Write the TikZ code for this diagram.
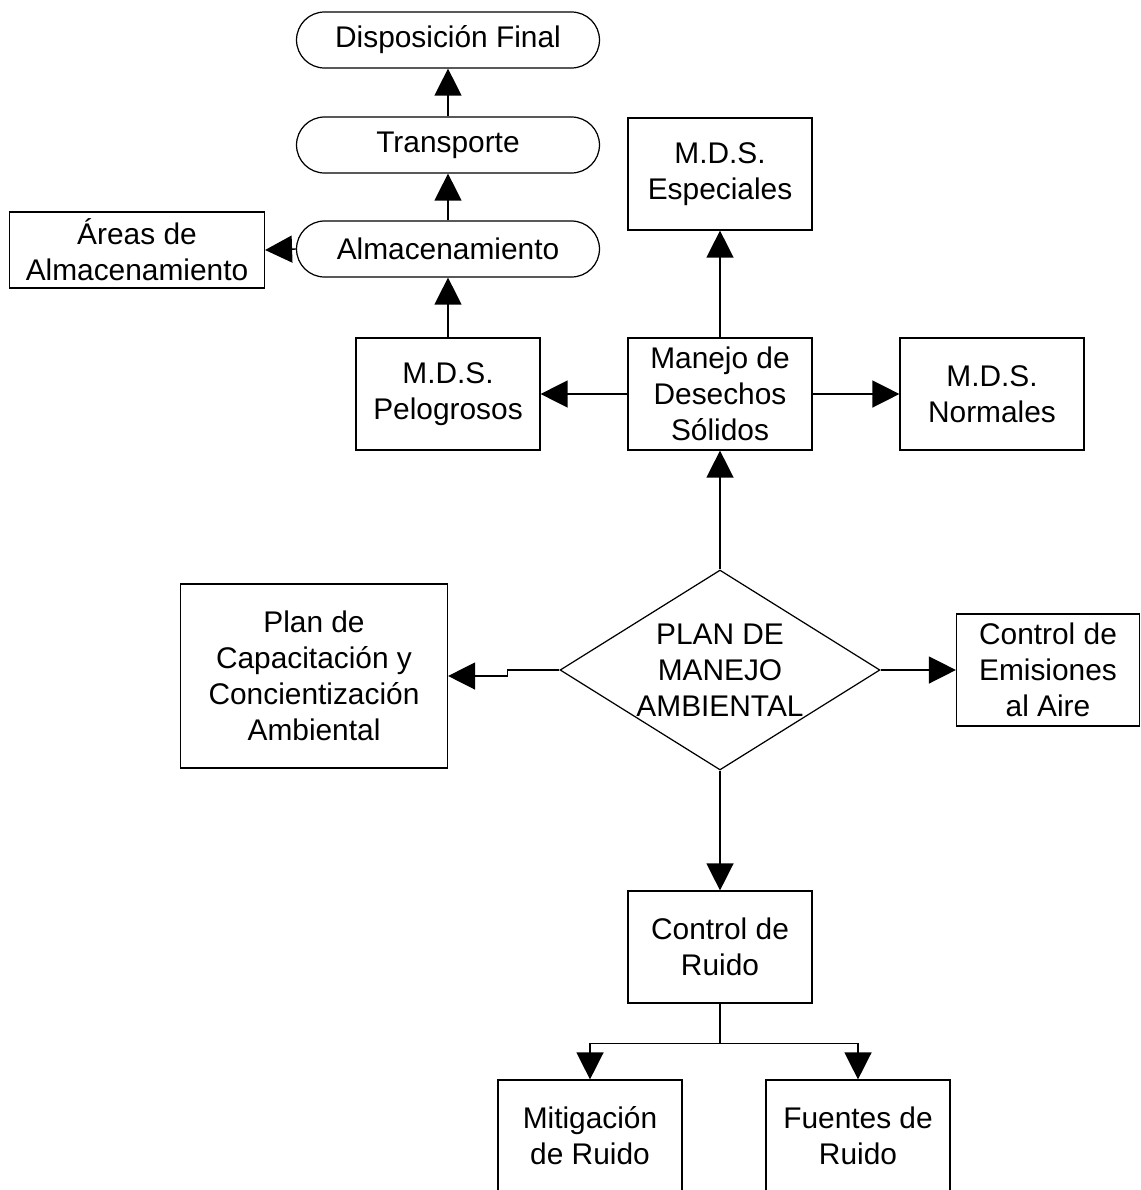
\documentclass[tikz,border=0pt]{standalone}
\usepackage{fontspec}
\setmainfont{Liberation Sans}
\usetikzlibrary{
	arrows.meta,
	positioning,
	shapes.geometric
}

\tikzset{
	caja/.style={draw, line width=0.7pt, align=center, minimum width=3.68cm, minimum height=2.24cm, inner sep=2pt},
	etapa/.style={draw, line width=0.7pt, rounded corners=0.56cm, minimum width=6.06cm, minimum height=1.12cm},
	rombo/.style={draw, line width=0.7pt, diamond, shape aspect=1.6, align=center, inner sep=-1.5pt, minimum width=6.4cm, minimum height=4cm},
	flecha/.style={line width=0.8pt, -{Triangle[length=0.54cm,width=0.54cm]}}
}

\begin{document}
\begin{tikzpicture}[x=0.02cm, y=-0.02cm, every node/.style={font=\fontsize{17}{20.5}\selectfont}]
		\useasboundingbox (0,0) rectangle (1141,1190);
		% plan central
		\node[rombo] (plan) at (720,670) {PLAN DE\\MANEJO\\AMBIENTAL};
		\node[caja] (manejo) at (720,394) {Manejo de\\Desechos\\Sólidos};
		\node[caja] (capac) at (314,676) [minimum width=5.34cm, minimum height=3.68cm] {Plan de\\Capacitación y\\Concientización\\Ambiental};
		\node[caja] (emis) at (1048,670) [minimum width=3.66cm] {Control de\\Emisiones\\al Aire};
		\node[caja] (ruido) at (720,947) {Control de\\Ruido};
		\node[caja] (mitig) at (590,1136) {Mitigación\\de Ruido};
		\node[caja] (fuentes) at (858,1136) {Fuentes de\\Ruido};
		% desechos
		\node[caja] (pelig) at (448,394) {M.D.S.\\Pelogrosos};
		\node[caja] (normal) at (992,394) {M.D.S.\\Normales};
		\node[caja] (espec) at (720,174) {M.D.S.\\Especiales};
		\node[etapa] (almac) at (448,249) {Almacenamiento};
		\node[etapa] (transp) at (448,145) {Transporte};
		\node[etapa] (dispo) at (448,40) {Disposición Final};
		\node[caja] (areas) at (137,250) [minimum width=5.1cm, minimum height=1.52cm] {Áreas de\\Almacenamiento};
		% conexiones
		\draw[flecha] (plan.north) -- (manejo.south);
		\draw[flecha] (plan.east) -- (emis.west);
		\draw[flecha] (plan.south) -- (ruido.north);
		\draw[flecha] (plan.west) -- ++(-52,0) |- (capac.east);
		\draw[flecha] (manejo.west) -- (pelig.east);
		\draw[flecha] (manejo.east) -- (normal.west);
		\draw[flecha] (manejo.north) -- (espec.south);
		\draw[flecha] (pelig.north) -- (almac.south);
		\draw[flecha] (almac.north) -- (transp.south);
		\draw[flecha] (transp.north) -- (dispo.south);
		\draw[flecha] (almac.west) -- (areas.east);
		\draw[line width=0.8pt] (ruido.south) -- ++(0,40) coordinate (rama);
		\draw[flecha] (rama) -| (mitig.north);
		\draw[flecha] (rama) -| (fuentes.north);
	\end{tikzpicture}
\end{document}
